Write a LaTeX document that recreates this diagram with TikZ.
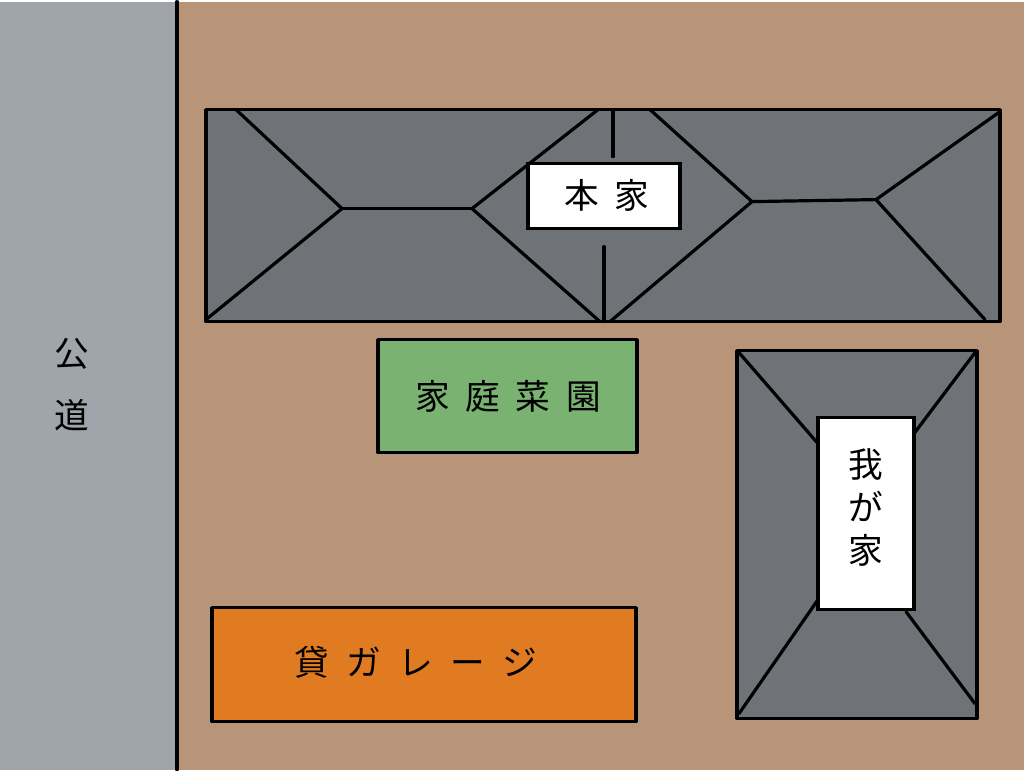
\documentclass[tikz,border=0pt]{standalone}
\usepackage{fontspec}
\newfontfamily\cjk{Noto Sans CJK JP}
\definecolor{ground}{HTML}{B89578}
\definecolor{road}{HTML}{A0A4AB}
\definecolor{roof}{HTML}{6F7276}
\definecolor{garden}{HTML}{79B271}
\definecolor{garage}{HTML}{E07B22}
\tikzset{
  edge/.style={line width=2.4pt,black,line cap=round,line join=round},
  label box/.style={draw=black,line width=2.4pt,fill=white},
  jp/.style={font=\cjk\fontsize{26}{26}\selectfont}
}
\begin{document}
\begin{tikzpicture}[x=0.75pt,y=0.75pt,yscale=-1]

% ground and road
\fill [ground] (0, 0) rectangle (1024, 768);
\fill [road] (0, 0) rectangle (177, 768);
\draw [edge] (177, 0) -- (177, 768);
\node [jp] (road1) at (72, 352) {公};
\node [jp] (road2) at (72, 414) {道};

% main house
\draw [edge,fill=roof] (206, 108) rectangle (1000, 320);
\draw [edge] (236, 108) -- (342, 207) -- (206, 318);
\draw [edge] (342, 207) -- (472, 207);
\draw [edge] (598, 108) -- (472, 207) -- (600, 320);
\draw [edge] (613, 110) -- (613, 155);
\draw [edge] (604, 245) -- (604, 320);
\draw [edge] (650, 108) -- (752, 200) -- (610, 320);
\draw [edge] (752, 200) -- (876, 198);
\draw [edge] (1000, 110) -- (876, 198) -- (985, 318);
\draw [label box] (528, 162) rectangle (680, 227);
\node [jp] (main) at (607, 194) {本\hspace{0.45em}家};

% garden
\draw [edge,fill=garden] (378, 338) rectangle (637, 451);
\node [jp] (garden) at (508, 395) {家\hspace{0.45em}庭\hspace{0.45em}菜\hspace{0.45em}園};

% garage
\draw [edge,fill=garage] (212, 606) rectangle (636, 720);
\node [jp] (garage) at (416, 661) {貸\hspace{0.5em}ガ\hspace{0.5em}レ\hspace{0.5em}ー\hspace{0.5em}ジ};

% my house
\draw [edge,fill=roof] (737, 349) rectangle (977, 717);
\draw [edge] (739, 351) -- (818, 442);
\draw [edge] (975, 351) -- (914, 432);
\draw [edge] (739, 712) -- (818, 598);
\draw [edge] (975, 702) -- (906, 610);
\draw [label box] (818, 416) rectangle (914, 608);
\node [jp,align=center] (mine) at (866, 506) {我\\[6pt]が\\[6pt]家};

\end{tikzpicture}
\end{document}
